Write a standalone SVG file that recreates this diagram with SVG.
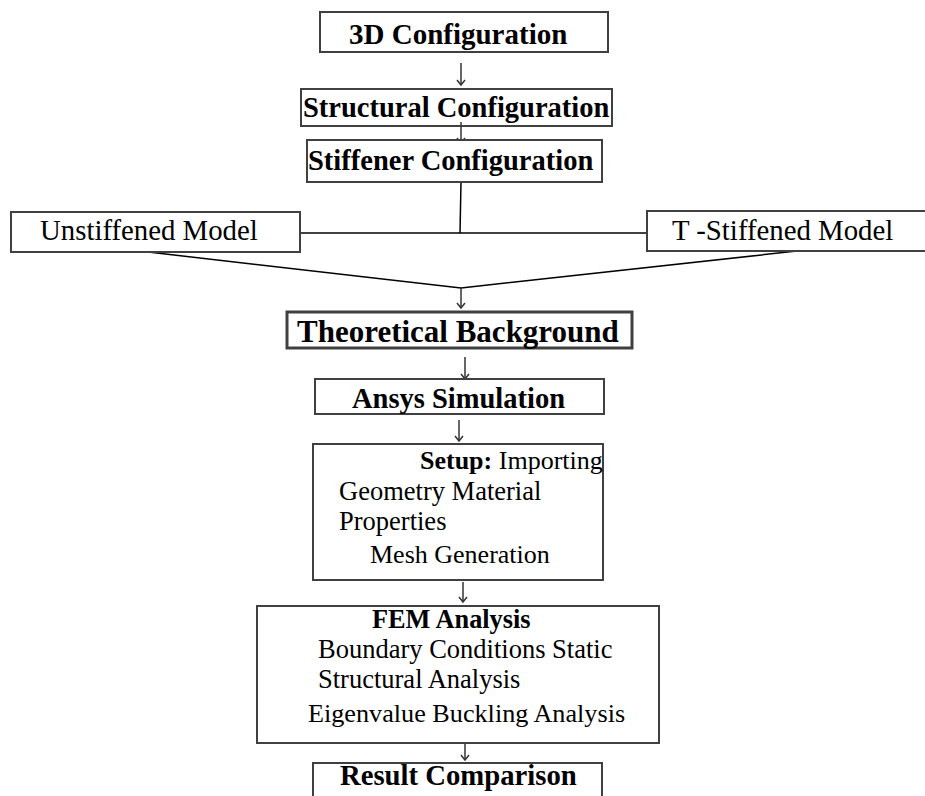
<svg xmlns="http://www.w3.org/2000/svg" width="925" height="796" viewBox="0 0 925 796">
<style>
  .box { fill: #ffffff; stroke: #404040; stroke-width: 2; }
  .thick { stroke-width: 3; }
  .t { font-family: "Liberation Serif", "Times New Roman", serif; fill: #000; }
  .b { font-weight: bold; }
  .ln { stroke: #000; stroke-width: 1.5; fill: none; }
  .ar { stroke: #333; stroke-width: 1.5; fill: none; marker-end: url(#head); }
</style>
<defs>
  <marker id="head" markerUnits="userSpaceOnUse" markerWidth="12" markerHeight="12" viewBox="-7 -6 9 12" refX="0" refY="0" orient="auto">
    <path d="M-5,-4 L0,0 L-5,4" fill="none" stroke="#333" stroke-width="1.5"/>
  </marker>
</defs>
<rect width="925" height="796" fill="#ffffff"/>

<g id="connectors">
  <line class="ar" x1="461" y1="63" x2="461" y2="85"/>
  <line class="ar" x1="461" y1="122" x2="461" y2="143"/>
  <line class="ln" x1="461" y1="182" x2="460" y2="233"/>
  <line class="ln" x1="300" y1="233" x2="647" y2="233"/>
  <polyline class="ln" points="148,252 461,288 797,251"/>
  <line class="ar" x1="461" y1="288" x2="461" y2="308"/>
  <line class="ar" x1="465" y1="357" x2="465" y2="379"/>
  <line class="ar" x1="459" y1="420" x2="459" y2="441"/>
  <line class="ar" x1="463" y1="582" x2="463" y2="602"/>
  <line class="ar" x1="465" y1="738" x2="465" y2="760"/>
</g>

<g id="n3d">
  <rect class="box" x="320" y="12" width="288" height="40"/>
  <text class="t b" x="349" y="44" font-size="29">3D Configuration</text>
</g>
<g id="nstructural">
  <rect class="box" x="301" y="89" width="311" height="37" fill-opacity="0"/>
  <text class="t b" x="303" y="117" font-size="28.5">Structural Configuration</text>
</g>
<g id="nstiffener">
  <rect class="box" x="307" y="140" width="295" height="42"/>
  <text class="t b" x="308" y="170" font-size="28.5">Stiffener Configuration</text>
</g>
<g id="nunstiffened">
  <rect class="box" x="11" y="212" width="289" height="40"/>
  <text class="t" x="40" y="240" font-size="28.8">Unstiffened Model</text>
</g>
<g id="ntstiffened">
  <rect class="box" x="647" y="211" width="282" height="40"/>
  <text class="t" x="672" y="240" font-size="28.8">T -Stiffened Model</text>
</g>
<g id="ntheory">
  <rect class="box thick" x="287" y="312" width="345" height="36"/>
  <text class="t b" x="297" y="342" font-size="31">Theoretical Background</text>
</g>
<g id="nansys">
  <rect class="box" x="315" y="379" width="289" height="35"/>
  <text class="t b" x="352" y="408" font-size="28.5">Ansys Simulation</text>
</g>
<g id="nsetup">
  <rect class="box" x="313" y="444" width="290" height="136"/>
  <text class="t" x="420" y="469" font-size="26"><tspan font-weight="bold">Setup:</tspan> Importing</text>
  <text class="t" x="339" y="500" font-size="26.5">Geometry Material</text>
  <text class="t" x="339" y="530" font-size="26.5">Properties</text>
  <text class="t" x="370" y="563" font-size="26">Mesh Generation</text>
</g>
<g id="nfem">
  <rect class="box" x="257" y="606" width="402" height="137"/>
  <text class="t b" x="372" y="628" font-size="26.3">FEM Analysis</text>
  <text class="t" x="318" y="658" font-size="26.5">Boundary Conditions Static</text>
  <text class="t" x="318" y="688" font-size="26.5">Structural Analysis</text>
  <text class="t" x="308" y="722" font-size="26.2">Eigenvalue Buckling Analysis</text>
</g>
<g id="nresult">
  <rect class="box" x="313" y="763" width="289" height="50"/>
  <text class="t b" x="340" y="785" font-size="28.7">Result Comparison</text>
</g>
</svg>
